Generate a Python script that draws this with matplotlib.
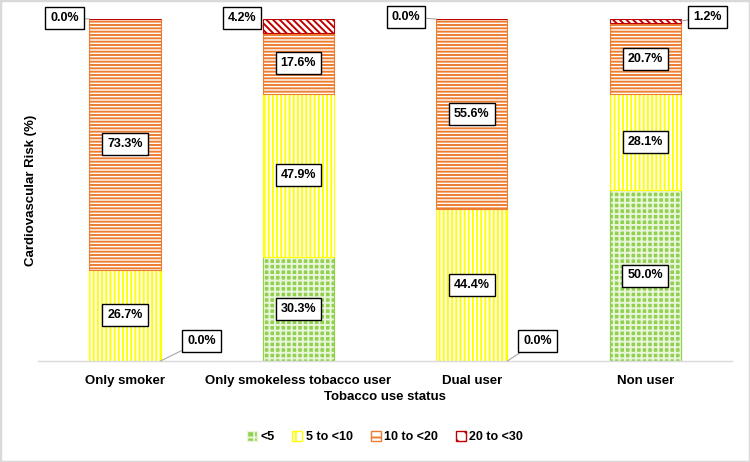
import numpy as np
import matplotlib; matplotlib.use('Agg')
import matplotlib.pyplot as plt
from matplotlib.patches import Rectangle, Patch

plt.rcParams['font.family'] = ['Liberation Sans', 'DejaVu Sans']
plt.rcParams['font.weight'] = 'bold'
plt.rcParams['hatch.linewidth'] = 1.4

# data
groups = ['Only smoker', 'Only smokeless tobacco user', 'Dual user', 'Non user']
risk_cats = ['<5', '5 to <10', '10 to <20', '20 to <30']
lt5 = [0.0, 30.3, 0.0, 50.0]
r5_10 = [26.7, 47.9, 44.4, 28.1]
r10_20 = [73.3, 17.6, 55.6, 20.7]
r20_30 = [0.0, 4.2, 0.0, 1.2]

series = [lt5, r5_10, r10_20, r20_30]
colors = ['#92D050', '#FFFF00', '#ED7D31', '#C00000']
hatches = ['+++', '||||', '-----', '\\\\\\\\\\']

fig = plt.figure(figsize=(7.5, 4.62), dpi=100)
fig.patches.append(Rectangle((0, 0), 1, 1, transform=fig.transFigure, fill=False,
                             edgecolor='#d9d9d9', linewidth=2.5))
ax = fig.add_axes([38.3/750, 101/462, 693.7/750, 342/462])

x = np.arange(len(groups))
w = 0.41
bottom = np.zeros(len(groups))
for k, vals in enumerate(series):
    vals = np.array(vals)
    if k == 0:
        # checker look: green fill with white grid
        ax.bar(x, vals, w, bottom=bottom, color='#92D050', edgecolor=colors[k], linewidth=0.8)
        ax.bar(x, vals, w, bottom=bottom, color='none', edgecolor='#eaf6dc', hatch=hatches[k], linewidth=0)
        ax.bar(x, vals, w, bottom=bottom, color='none', edgecolor=colors[k], linewidth=0.8)
    else:
        ax.bar(x, vals, w, bottom=bottom, color='white', edgecolor=colors[k],
               hatch=hatches[k], linewidth=0.8)
    bottom += vals

fs = 9
box = dict(boxstyle='square,pad=0.4', fc='white', ec='black', lw=1)

# labels inside segments
bottom = np.zeros(len(groups))
for k, vals in enumerate(series):
    for i, v in enumerate(vals):
        if v >= 10:
            ax.text(x[i], bottom[i] + v/2, '%.1f%%' % v, ha='center', va='center',
                    fontsize=fs, bbox=box)
    bottom += np.array(vals)

# small / zero labels with leader lines
lead = dict(arrowstyle='-', color='#a6a6a6', lw=0.8, shrinkA=0, shrinkB=0)
ax.annotate('%.1f%%' % r20_30[0], xy=(0 - w/2, 100), xytext=(-0.35, 100.3),
            ha='center', va='center', fontsize=fs, bbox=box, arrowprops=lead, annotation_clip=False)
ax.annotate('%.1f%%' % lt5[0], xy=(0 + w/2, 0), xytext=(0.44, 5.9),
            ha='center', va='center', fontsize=fs, bbox=box, arrowprops=lead, annotation_clip=False)
ax.annotate('%.1f%%' % r20_30[1], xy=(1 - w/2, 97.9), xytext=(0.675, 100.3),
            ha='center', va='center', fontsize=fs, bbox=box, arrowprops=lead, annotation_clip=False)
ax.annotate('%.1f%%' % r20_30[2], xy=(2 - w/2, 100), xytext=(1.62, 100.6),
            ha='center', va='center', fontsize=fs, bbox=box, arrowprops=lead, annotation_clip=False)
ax.annotate('%.1f%%' % lt5[2], xy=(2 + w/2, 0), xytext=(2.38, 5.9),
            ha='center', va='center', fontsize=fs, bbox=box, arrowprops=lead, annotation_clip=False)
ax.annotate('%.1f%%' % r20_30[3], xy=(3 + w/2, 99.4), xytext=(3.36, 100.6),
            ha='center', va='center', fontsize=fs, bbox=box, arrowprops=lead, annotation_clip=False)

ax.set_xlim(-0.5, 3.5)
ax.set_ylim(0, 100)
for s in ['top', 'right', 'left']:
    ax.spines[s].set_visible(False)
ax.spines['bottom'].set_color('#d9d9d9')
ax.spines['bottom'].set_linewidth(1)
ax.set_yticks([])
ax.set_xticks(x)
ax.set_xticklabels(groups, fontsize=9.5, fontweight='bold')
ax.tick_params(axis='x', length=0, pad=10)

fig.text(385/750, 1 - 397/462, 'Tobacco use status', ha='center', va='center',
         fontsize=9.5, fontweight='bold')
fig.text(31/750, 1 - 190/462, 'Cardiovascular Risk (%)', ha='center', va='center',
         rotation=90, fontsize=9.5, fontweight='bold')

handles = []
for k in range(4):
    if k == 0:
        handles.append(Patch(facecolor='#92D050', edgecolor='#eaf6dc', hatch='++', label=risk_cats[k]))
    else:
        handles.append(Patch(facecolor='white', edgecolor=colors[k], hatch=hatches[k][:2], label=risk_cats[k]))
fig.legend(handles=handles, loc='center', bbox_to_anchor=(385/750, 1 - 437/462), ncol=4,
           frameon=False, fontsize=9, handlelength=0.8, handleheight=0.8,
           handletextpad=0.3, columnspacing=1.4)

fig.savefig('out.png', dpi=100)
